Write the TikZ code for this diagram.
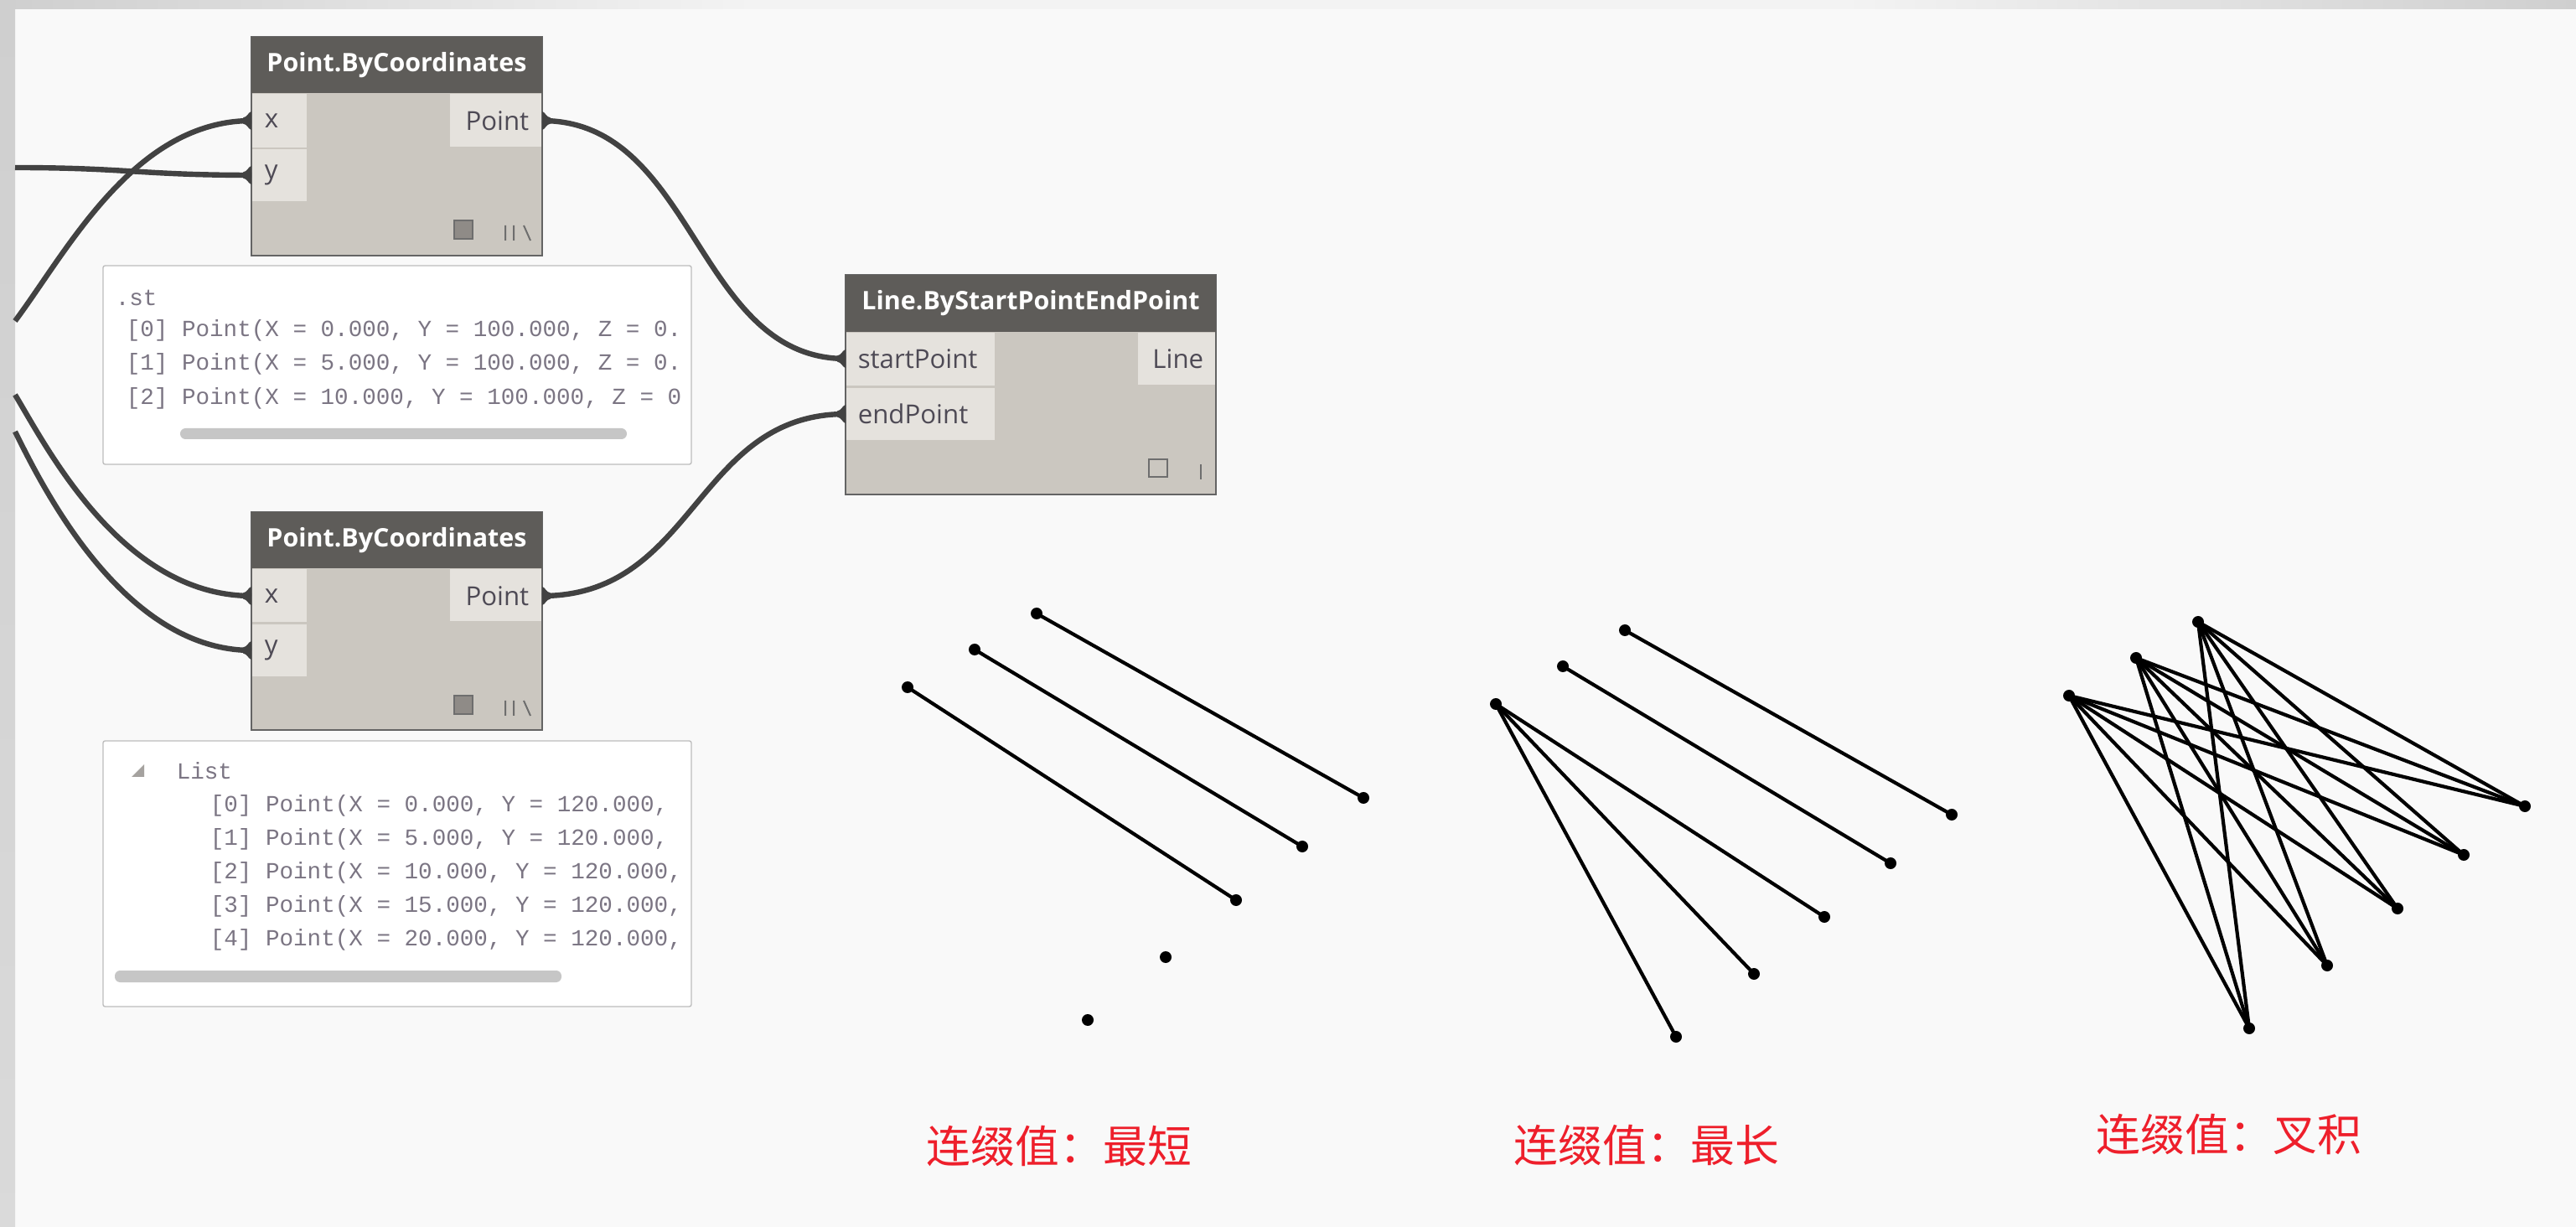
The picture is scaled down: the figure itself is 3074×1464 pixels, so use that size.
\documentclass[tikz,border=0pt]{standalone}
\usepackage{fontspec}
\setmainfont{Open Sans}
\newfontfamily\uifont{Open Sans}
\newfontfamily\codefont{Liberation Mono}
\newfontfamily\cjk{Noto Sans CJK SC}
\usetikzlibrary{fit}
\definecolor{bgc}{HTML}{F9F9F9}
\definecolor{framea}{HTML}{CFCFCF}
\definecolor{frameb}{HTML}{F3F3F3}
\definecolor{bodyc}{HTML}{CBC7C0}
\definecolor{headc}{HTML}{5E5C59}
\definecolor{portc}{HTML}{E5E2DD}
\definecolor{portt}{HTML}{4E4A55}
\definecolor{borderc}{HTML}{646464}
\definecolor{wirec}{HTML}{424242}
\definecolor{infoborder}{HTML}{BDBDBD}
\definecolor{codec}{HTML}{7B7583}
\definecolor{scrollc}{HTML}{C6C6C6}
\definecolor{iconc}{HTML}{6E6E6E}
\definecolor{iconfill}{HTML}{8F8B87}
\definecolor{redlbl}{HTML}{EE1F2B}
\tikzset{
  nodebody/.style={draw=borderc, line width=0.5pt, fill=bodyc, inner sep=0pt},
  headbar/.style={fill=headc, inner sep=0pt, text=white, font=\uifont\bfseries\fontsize{7.6pt}{9pt}\selectfont},
  portbox/.style={fill=portc, inner sep=0pt},
  portlbl/.style={text=portt, font=\uifont\fontsize{7.8pt}{9pt}\selectfont, inner sep=0pt},
  wire/.style={draw=wirec, line width=1.6pt},
  infobox/.style={draw=infoborder, fill=white, rounded corners=0.6pt, line width=0.35pt, inner sep=0pt},
  code/.style={text=codec, font=\codefont\fontsize{6.9pt}{8pt}\selectfont, inner sep=0pt, anchor=west},
  scrollbar/.style={fill=scrollc, rounded corners=1.6pt},
  icon/.style={draw=iconc, line width=0.5pt},
  seg/.style={draw=black, line width=1.05pt},
  lbl/.style={text=redlbl, font=\cjk\fontsize{13.2pt}{15pt}\selectfont, inner sep=0pt},
  innub/.pic={\fill[wirec] (-10,-3.5) .. controls (-5,-4) and (-3,-11) .. (0,-11) -- (0,11) .. controls (-3,11) and (-5,4) .. (-10,3.5) -- cycle;},
  outnub/.pic={\fill[wirec] (10,-3.5) .. controls (5,-4) and (3,-11) .. (0,-11) -- (0,11) .. controls (3,11) and (5,4) .. (10,3.5) -- cycle;}
}
\begin{document}
\begin{tikzpicture}[x=0.25pt,y=-0.25pt]
\useasboundingbox (0,0) rectangle (3074,1464);
% canvas and frame
\fill[bgc] (0,0) rectangle (3074,1464);
\shade[left color=framea, right color=frameb] (0,0) rectangle (900,11);
\fill[frameb] (900,0) rectangle (2200,11);
\shade[left color=frameb, right color=framea] (2200,0) rectangle (3074,11);
\shade[top color=framea, bottom color=framea!70!frameb] (0,0) rectangle (18,1464);

% ---------- node 1 : Point.ByCoordinates ----------
\node[nodebody, fit={(300,44)(647,305)}] (n1) {};
\node[headbar, fit={(300,44)(647,111)}] (n1h) {};
\node[headbar] (n1t) at (n1h.center) {Point.ByCoordinates};
\node[portbox, fit={(301,112)(366,176)}] (n1px) {};
\node[portbox, fit={(301,178)(366,240)}] (n1py) {};
\node[portbox, fit={(537,112)(646,175)}] (n1po) {};
\node[portlbl, anchor=west] (n1lx) at (315,144) {x};
\node[portlbl, anchor=west] (n1ly) at (315,209) {y};
\node[portlbl, anchor=east] (n1lo) at (632,144) {Point};
\fill[iconfill, draw=iconc, line width=0.4pt] (542,263) rectangle (564,285);
\draw[icon] (603,269) -- (603,287) (613,269) -- (613,287) (625,269) -- (633,287);
\coordinate (n1x) at (300,144);
\coordinate (n1y) at (300,209);
\coordinate (n1o) at (647,144);

% ---------- node 2 : Point.ByCoordinates ----------
\node[nodebody, fit={(300,611)(647,871)}] (n2) {};
\node[headbar, fit={(300,611)(647,678)}] (n2h) {};
\node[headbar] (n2t) at (n2h.center) {Point.ByCoordinates};
\node[portbox, fit={(301,679)(366,742)}] (n2px) {};
\node[portbox, fit={(301,745)(366,807)}] (n2py) {};
\node[portbox, fit={(537,679)(646,741)}] (n2po) {};
\node[portlbl, anchor=west] (n2lx) at (315,711) {x};
\node[portlbl, anchor=west] (n2ly) at (315,776) {y};
\node[portlbl, anchor=east] (n2lo) at (632,711) {Point};
\fill[iconfill, draw=iconc, line width=0.4pt] (542,830) rectangle (564,852);
\draw[icon] (603,836) -- (603,854) (613,836) -- (613,854) (625,836) -- (633,854);
\coordinate (n2x) at (300,711);
\coordinate (n2y) at (300,776);
\coordinate (n2o) at (647,711);

% ---------- node 3 : Line.ByStartPointEndPoint ----------
\node[nodebody, fit={(1009,328)(1451,590)}] (ln) {};
\node[headbar, fit={(1009,328)(1451,396)}] (lnh) {};
\node[headbar] (lnt) at (lnh.center) {Line.ByStartPointEndPoint};
\node[portbox, fit={(1010,397)(1187,460)}] (lnps) {};
\node[portbox, fit={(1010,463)(1187,525)}] (lnpe) {};
\node[portbox, fit={(1358,397)(1450,459)}] (lnpo) {};
\node[portlbl, anchor=west] (lnls) at (1023,428) {startPoint};
\node[portlbl, anchor=west] (lnle) at (1023,494) {endPoint};
\node[portlbl, anchor=east] (lnlo) at (1437,428) {Line};
\draw[icon] (1371,548) rectangle (1393,569);
\draw[icon] (1433,554) -- (1433,572);
\coordinate (lns) at (1009,428);
\coordinate (lne) at (1009,494);

% ---------- info boxes ----------
\node[infobox, fit={(123,317)(825,554)}] (info1) {};
\node[code] (i1t) at (137,355) {.st};
\node[code] (i1a) at (150,394) {[0] Point(X = 0.000, Y = 100.000, Z = 0.};
\node[code] (i1b) at (150,434) {[1] Point(X = 5.000, Y = 100.000, Z = 0.};
\node[code] (i1c) at (150,475) {[2] Point(X = 10.000, Y = 100.000, Z = 0};
\fill[scrollbar] (215,511) rectangle (748,524);

\node[infobox, fit={(123,884)(825,1201)}] (info2) {};
\fill[iconfill!80!white] (172,912) -- (172,927) -- (157,927) -- cycle;
\node[code] (i2t) at (210,920) {List};
\node[code] (i2a) at (250,961) {[0] Point(X = 0.000, Y = 120.000,};
\node[code] (i2b) at (250,1001) {[1] Point(X = 5.000, Y = 120.000,};
\node[code] (i2c) at (250,1041) {[2] Point(X = 10.000, Y = 120.000,};
\node[code] (i2d) at (250,1081) {[3] Point(X = 15.000, Y = 120.000,};
\node[code] (i2e) at (250,1121) {[4] Point(X = 20.000, Y = 120.000,};
\fill[scrollbar] (137,1158) rectangle (670,1172);

% ---------- wires ----------
\coordinate (w1s) at (18,200);
\coordinate (w2s) at (18,383);
\coordinate (w3s) at (18,471);
\coordinate (w4s) at (18,515);
\draw[wire] (w1s) .. controls (150,200) and (170,209) .. (n1y);
\draw[wire] (w2s) .. controls (80,300) and (160,144) .. (n1x);
\draw[wire] (w3s) .. controls (55,532) and (145,711) .. (n2x);
\draw[wire] (w4s) .. controls (48,575) and (145,776) .. (n2y);
\draw[wire] (n1o) .. controls (830,144) and (830,428) .. (lns);
\draw[wire] (n2o) .. controls (830,711) and (830,494) .. (lne);
\pic at (n1x) {innub};
\pic at (n1y) {innub};
\pic at (n2x) {innub};
\pic at (n2y) {innub};
\pic at (lns) {innub};
\pic at (lne) {innub};
\pic at (n1o) {outnub};
\pic at (n2o) {outnub};

% ---------- point sets ----------
\foreach \g/\dx/\dy in {1/0/0, 2/702/20, 3/1386/10}{
  \begin{scope}[shift={(\dx,\dy)}]
    \coordinate (g\g a0) at (1083,820);
    \coordinate (g\g a1) at (1163,775);
    \coordinate (g\g a2) at (1237,732);
    \coordinate (g\g b0) at (1475,1074);
    \coordinate (g\g b1) at (1554,1010);
    \coordinate (g\g b2) at (1627,952);
    \coordinate (g\g b3) at (1391,1142);
    \coordinate (g\g b4) at (1298,1217);
  \end{scope}
}
% shortest
\foreach \i in {0,1,2} \draw[seg] (g1a\i) -- (g1b\i);
% longest
\foreach \i in {0,1,2} \draw[seg] (g2a\i) -- (g2b\i);
\draw[seg] (g2a0) -- (g2b3);
\draw[seg] (g2a0) -- (g2b4);
% cross product
\foreach \i in {0,1,2}{\foreach \j in {0,1,2,3,4}{\draw[seg] (g3a\i) -- (g3b\j);}}
\foreach \g in {1,2,3}{
  \foreach \n in {a0,a1,a2,b0,b1,b2,b3,b4}{\fill[black] (g\g\n) circle[radius=7];}
}

% ---------- labels ----------
\node[lbl] (lab1) at (1264,1367) {连缀值：最短};
\node[lbl] (lab2) at (1965,1366) {连缀值：最长};
\node[lbl] (lab3) at (2660,1353) {连缀值：叉积};
\end{tikzpicture}
\end{document}
